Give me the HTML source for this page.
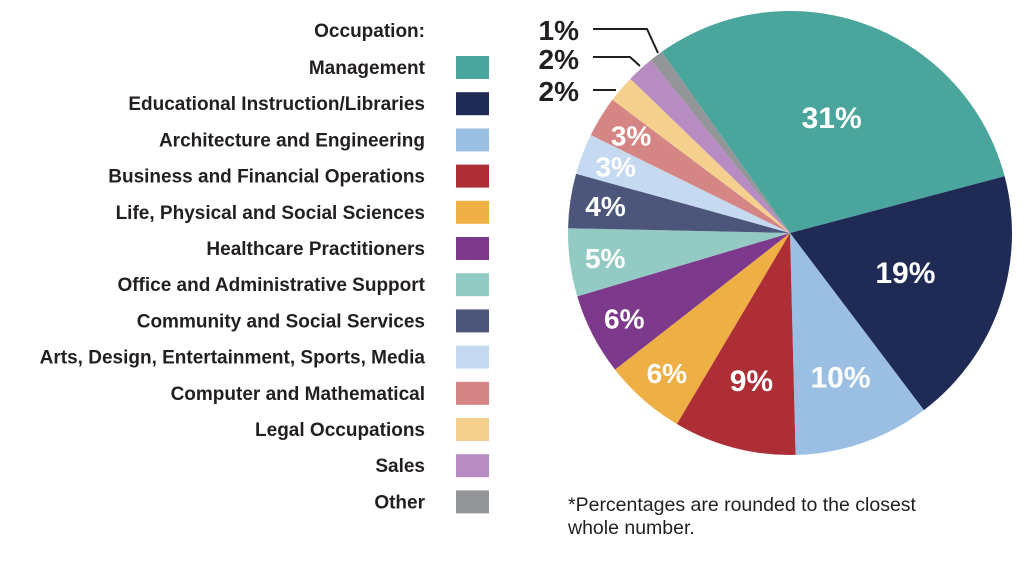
<!DOCTYPE html>
<html><head><meta charset="utf-8"><style>
body{margin:0;background:#fff;width:1024px;height:560px;overflow:hidden}
svg text{font-family:"Liberation Sans Narrow","Liberation Sans",sans-serif;font-weight:bold}
</style></head><body>
<svg id="chart" width="1024" height="560">
<text x="425" y="37" text-anchor="end" font-size="19" fill="#231f20">Occupation:</text>
<g id="legend"></g>
<g id="pie"></g>
<g id="labels"></g>
<g stroke="#231f20" stroke-width="2" fill="none">
<polyline points="593,29 647,29 658,53"/>
<polyline points="593,57 630,57 640,66"/>
<polyline points="593,90 616,90"/>
</g>
<text x="579" y="40" text-anchor="end" font-size="28" fill="#231f20">1%</text>
<text x="579" y="69" text-anchor="end" font-size="28" fill="#231f20">2%</text>
<text x="579" y="101" text-anchor="end" font-size="28" fill="#231f20">2%</text>
<text x="568" y="511" font-size="19.5" style="font-weight:normal" fill="#231f20">*Percentages are rounded to the closest</text>
<text x="568" y="534" font-size="19.5" style="font-weight:normal" fill="#231f20">whole number.</text>
</svg>
<script>
const categories=["Management","Educational Instruction/Libraries","Architecture and Engineering","Business and Financial Operations","Life, Physical and Social Sciences","Healthcare Practitioners","Office and Administrative Support","Community and Social Services","Arts, Design, Entertainment, Sports, Media","Computer and Mathematical","Legal Occupations","Sales","Other"];
const values=[31,19,10,9,6,6,5,4,3,3,2,2,1];
const colors=["#4aa59c","#1f2b55","#9bbfe3","#ae2e35","#eeaf45","#7d3a8c","#93cbc4","#4b567a","#c5daf0","#d68585","#f5cf8e","#b78cc2","#939598"];
const NS="http://www.w3.org/2000/svg";
const cx=790,cy=233,R=222,start=-35.3;
const total=values.reduce((a,b)=>a+b,0);
function pt(deg,r){const a=deg*Math.PI/180;return [cx+r*Math.sin(a),cy-r*Math.cos(a)];}
const pie=document.getElementById('pie'),labels=document.getElementById('labels'),legend=document.getElementById('legend');
let ang=start;
values.forEach((v,i)=>{
  const span=v/total*360,a0=ang,a1=ang+span;ang=a1;
  const p0=pt(a0,R),p1=pt(a1,R);
  const path=document.createElementNS(NS,'path');
  path.setAttribute('d',`M${cx},${cy}L${p0[0]},${p0[1]}A${R},${R} 0 ${span>180?1:0} 1 ${p1[0]},${p1[1]}Z`);
  path.setAttribute('fill',colors[i]);
  
  
  pie.appendChild(path);
  if(v>=3){
    const f=v>=15?0.55:(v>=9?0.69:0.84);
    const m=pt((a0+a1)/2,R*f);
    const t=document.createElementNS(NS,'text');
    t.setAttribute('x',m[0]);t.setAttribute('y',m[1]+10);
    t.setAttribute('text-anchor','middle');t.setAttribute('font-size',v>=9?'30':'28');
    t.setAttribute('fill','#fff');t.textContent=v+'%';
    
    
    labels.appendChild(t);
  }
  const y=67+i*36.2;
  const lt=document.createElementNS(NS,'text');
  lt.setAttribute('x',425);lt.setAttribute('y',y+7);lt.setAttribute('text-anchor','end');
  lt.setAttribute('font-size','19');lt.setAttribute('fill','#231f20');lt.textContent=categories[i];
  
  
  legend.appendChild(lt);
  const sw=document.createElementNS(NS,'rect');
  sw.setAttribute('x',456);sw.setAttribute('y',y-11);sw.setAttribute('width',33);sw.setAttribute('height',23);
  sw.setAttribute('fill',colors[i]);
  
  
  legend.appendChild(sw);
});
</script>
</body></html>
